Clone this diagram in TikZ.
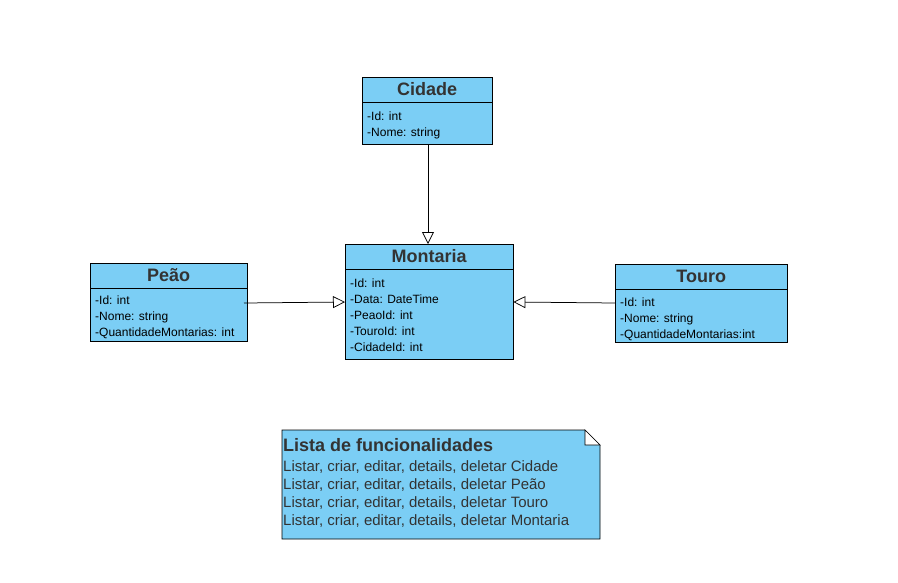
\documentclass[tikz,border=0pt]{standalone}
\usepackage{fontspec}
\setmainfont{Liberation Sans}
\usetikzlibrary{arrows.meta}
\definecolor{umlblue}{HTML}{7BCEF5}
\definecolor{umltext}{HTML}{333333}
\begin{document}
\begin{tikzpicture}[x=1pt,y=-1pt,
  classhead/.style={draw=black, fill=umlblue, anchor=north west, inner sep=0pt,
    text=umltext, font=\fontsize{18}{20}\selectfont\bfseries},
  classbody/.style={draw=black, fill=umlblue, anchor=north west, inner sep=0pt,
    text=black, align=left, font=\fontsize{12}{16}\selectfont},
  bodytext/.style={anchor=west, inner sep=0pt, text=black, align=left,
    font=\fontsize{12}{16}\selectfont},
  inherit/.style={draw=black, line width=0.75pt, -{Triangle[open, length=12pt, width=12pt]}},
]
\useasboundingbox (0,0) rectangle (898,582);

% Cidade
\node[classhead, minimum width=130pt, minimum height=25pt] (cidhead) at (362,77) {\raisebox{1.5pt}{Cidade}};
\node[classbody, minimum width=130pt, minimum height=42pt] (cidbody) at (cidhead.south west) {};
\node[bodytext] (cidtext) at ([xshift=5pt,yshift=-2pt]cidbody.west) {-Id: int\\-Nome: string};

% Montaria
\node[classhead, minimum width=168pt, minimum height=25pt] (monhead) at (345,244) {\raisebox{1.5pt}{Montaria}};
\node[classbody, minimum width=168pt, minimum height=90pt] (monbody) at (monhead.south west) {};
\node[bodytext] (montext) at ([xshift=5pt,yshift=-1pt]monbody.west) {-Id: int\\-Data: DateTime\\-PeaoId: int\\-TouroId: int\\-CidadeId: int};

% Peao
\node[classhead, minimum width=157pt, minimum height=25pt] (peahead) at (90,263) {\raisebox{1.5pt}{Peão}};
\node[classbody, minimum width=157pt, minimum height=53pt] (peabody) at (peahead.south west) {};
\node[bodytext] (peatext) at ([xshift=5pt,yshift=-2pt]peabody.west) {-Id: int\\-Nome: string\\-QuantidadeMontarias: int};

% Touro
\node[classhead, minimum width=172pt, minimum height=25pt] (touhead) at (615,264) {\raisebox{1.5pt}{Touro}};
\node[classbody, minimum width=172pt, minimum height=53pt] (toubody) at (touhead.south west) {};
\node[bodytext] (toutext) at ([xshift=5pt,yshift=-3pt]toubody.west) {-Id: int\\-Nome: string\\-QuantidadeMontarias:int};

% connectors
\coordinate (peastart) at (244,303);
\coordinate (toustart) at (615,303);
\draw[inherit] (cidbody.south -| 428,0) -- (monhead.north -| 428,0);
\draw[inherit] (peastart) -- (monbody.west |- 0,302);
\draw[inherit] (toustart) -- (monbody.east |- 0,302);

% note
\draw[black, fill=umlblue, line width=0.7pt] (282,430) -- (585,430) -- (600,445) -- (600,539) -- (282,539) -- cycle;
\draw[black, fill=white, line width=0.7pt] (585,430) -- (585,445) -- (600,445) -- cycle;
\node[anchor=north west, inner sep=0pt, text=umltext, align=left, font=\fontsize{18}{20}\selectfont\bfseries] (notetitle) at (283,438) {Lista de funcionalidades};
\node[anchor=north west, inner sep=0pt, text=umltext, align=left, font=\fontsize{15}{18}\selectfont] (notetext) at (283,460) {Listar, criar, editar, details, deletar Cidade\\Listar, criar, editar, details, deletar Peão\\Listar, criar, editar, details, deletar Touro\\Listar, criar, editar, details, deletar Montaria};
\end{tikzpicture}
\end{document}
